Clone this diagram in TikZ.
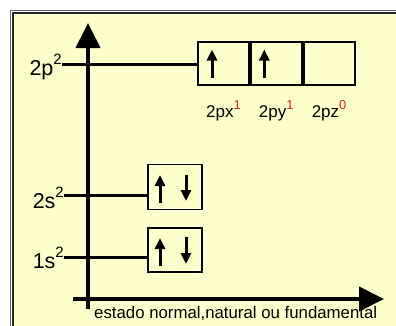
\documentclass[tikz,border=0pt]{standalone}
\usepackage{fontspec}
\setmainfont{Liberation Sans}
\usetikzlibrary{arrows.meta, positioning, calc}
\definecolor{paper}{HTML}{FFFFCC}
\definecolor{supred}{HTML}{CC2222}
\tikzset{
  lvl/.style={inner sep=0pt, font=\fontsize{21.5}{23}\selectfont},
  orb/.style={draw, line width=1.8pt, inner sep=0pt},
  sub/.style={inner sep=0pt, font=\fontsize{17}{18}\selectfont},
  level/.style={line width=3pt},
  axis/.style={line width=4pt, -{Triangle[length=25pt, width=24pt]}},
  spin/.style={line width=3pt, -{Triangle[length=11pt, width=10pt]}}
}
\newcommand{\lsup}[1]{\raisebox{10.5pt}{\fontsize{15}{15}\selectfont #1}}
\newcommand{\osup}[1]{\raisebox{8.5pt}{\fontsize{13}{13}\selectfont\color{supred}#1}}
\begin{document}
\begin{tikzpicture}[x=1pt, y=-1pt]
  \useasboundingbox (0,0) rectangle (396,325);
  % frame
  \fill[paper] (13,13) rectangle (420,340);
  \draw[gray!80!black, line width=1.2pt] (10.5,10.5) rectangle (420,340);
  \draw[black!85, line width=1.2pt] (13,13) rectangle (420,340);

  % axes
  \coordinate (ybot) at (88,309);
  \coordinate (ytop) at (88,23);
  \coordinate (xleft) at (73,299);
  \coordinate (xright) at (384,299);
  \draw[axis] (ybot) -- (ytop);
  \draw[axis] (xleft) -- (xright);
  \node[anchor=base west, inner sep=0pt, font=\fontsize{16.8}{18}\selectfont]
    (estado) at (94,318) {estado normal,natural ou fundamental};

  % orbital boxes
  \node[orb, minimum width=51pt, minimum height=43pt] (b2px) at (223.5,63.5) {};
  \node[orb, minimum width=51pt, minimum height=43pt, right=0pt of b2px] (b2py) {};
  \node[orb, minimum width=51pt, minimum height=43pt, right=0pt of b2py] (b2pz) {};
  \node[orb, minimum width=54pt, minimum height=45pt] (b2s) at (175,187) {};
  \node[orb, minimum width=54pt, minimum height=44pt] (b1s) at (175,250) {};

  % levels
  \coordinate (s2p) at (62,64);
  \coordinate (s2s) at (64,195);
  \coordinate (s1s) at (64,257);
  \node[lvl, anchor=base east] (l2p) at ([yshift=-11pt]s2p) {2p\lsup{2}};
  \node[lvl, anchor=base east] (l2s) at ([yshift=-13pt]s2s) {2s\lsup{2}};
  \node[lvl, anchor=base east] (l1s) at ([yshift=-11pt]s1s) {1s\lsup{2}};
  \draw[level] (s2p) -- (s2p -| b2px.west);
  \draw[level] (s2s) -- (s2s -| b2s.west);
  \draw[level] (s1s) -- (s1s -| b1s.west);

  % electrons
  \draw[spin] ($(b2px.center)+(-11.5,14)$) -- ++(0,-28);
  \draw[spin] ($(b2py.center)+(-12,14)$) -- ++(0,-28);
  \draw[spin] ($(b2s.center)+(-15,16)$) -- ++(0,-28);
  \draw[spin] ($(b2s.center)+(11,-12)$) -- ++(0,26);
  \draw[spin] ($(b1s.center)+(-15,16)$) -- ++(0,-28);
  \draw[spin] ($(b1s.center)+(11,-13)$) -- ++(0,27);

  % sublevel labels
  \node[sub, anchor=base] (t2px) at ([yshift=-32pt]b2px.south) {2px\osup{1}};
  \node[sub, anchor=base] (t2py) at ([yshift=-32pt]b2py.south) {2py\osup{1}};
  \node[sub, anchor=base] (t2pz) at ([yshift=-32pt]b2pz.south) {2pz\osup{0}};
\end{tikzpicture}
\end{document}
